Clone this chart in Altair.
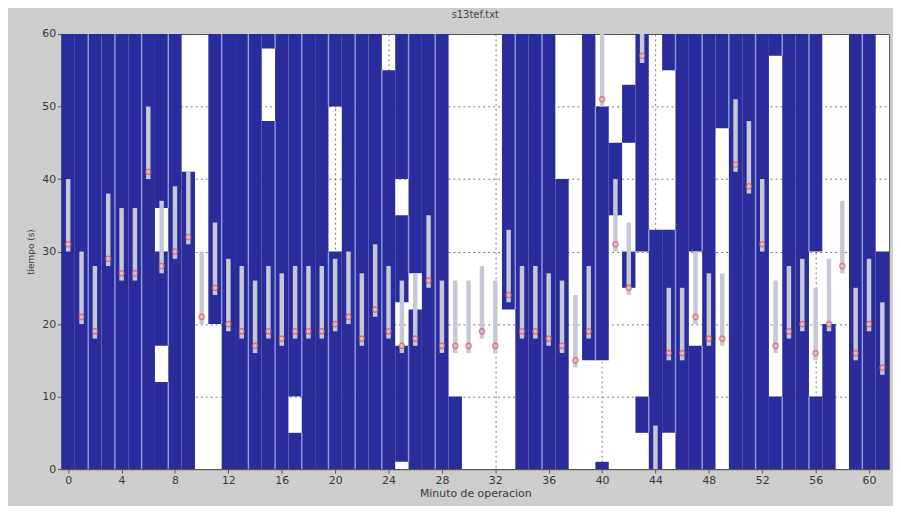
import altair as alt
import pandas as pd

# ---- data ----
# blue (occupied) segments: minute, lower, upper (s)
seg_minute = [0, 1, 2, 3, 4, 5, 6, 7, 7, 7, 8, 9, 11, 12, 13, 14, 15, 15, 16, 17, 17,
              18, 19, 20, 20, 21, 22, 23, 24, 25, 25, 25, 26, 26, 27, 28, 29, 33, 34,
              35, 36, 37, 39, 40, 40, 41, 42, 42, 43, 43, 44, 45, 45, 46, 47, 47, 48,
              49, 50, 51, 52, 53, 53, 54, 55, 56, 56, 57, 59, 60, 61]
seg_lo = [0, 0, 0, 0, 0, 0, 0, 0, 17, 36, 0, 0, 20, 0, 0, 0, 0, 58, 0, 0, 10,
          0, 0, 0, 50, 0, 0, 0, 0, 1, 23, 40, 0, 27, 0, 0, 0, 22, 0,
          0, 0, 0, 15, 0, 15, 35, 25, 45, 5, 30, 0, 5, 55, 0, 0, 30, 0,
          47, 0, 0, 0, 0, 57, 0, 0, 0, 30, 0, 0, 0, 0]
seg_hi = [60, 60, 60, 60, 60, 60, 60, 12, 30, 60, 60, 41, 60, 60, 60, 60, 48, 60, 60, 5, 60,
          60, 60, 30, 60, 60, 60, 60, 55, 17, 35, 60, 22, 60, 60, 60, 10, 60, 60,
          60, 60, 40, 60, 1, 50, 45, 30, 53, 10, 60, 33, 33, 60, 60, 17, 60, 60,
          60, 60, 60, 60, 10, 60, 60, 60, 10, 60, 20, 60, 60, 30]

# grey range bars and red markers per minute
minutes = list(range(62))
range_lo = [30, 20, 18, 28, 26, 26, 40, 27, 29, 31, 20, 24, 19, 18, 16, 18, 17, 18, 18, 18,
            19, 20, 17, 21, 18, 16, 17, 25, 16, 16, 16, 18, 16, 23, 18, 18, 17, 16, 14, 18,
            50, 30, 24, 56, 0, 15, 15, 20, 17, 17, 41, 38, 30, 16, 18, 19, 15, 19, 27, 15,
            19, 13]
range_hi = [40, 30, 28, 38, 36, 36, 50, 37, 39, 41, 30, 34, 29, 28, 26, 28, 27, 28, 28, 28,
            29, 30, 27, 31, 28, 26, 27, 35, 26, 26, 26, 28, 26, 33, 28, 28, 27, 26, 24, 28,
            60, 40, 34, 60, 6, 25, 25, 30, 27, 27, 51, 48, 40, 26, 28, 29, 25, 29, 37, 25,
            29, 23]
marker = [31, 21, 19, 29, 27, 27, 41, 28, 30, 32, 21, 25, 20, 19, 17, 19, 18, 19, 19, 19,
          20, 21, 18, 22, 19, 17, 18, 26, 17, 17, 17, 19, 17, 24, 19, 19, 18, 17, 15, 19,
          51, 31, 25, 57, None, 16, 16, 21, 18, 18, 42, 39, 31, 17, 19, 20, 16, 20, 28, 16,
          20, 14]

x_ticks = list(range(0, 61, 2))
y_ticks = list(range(0, 61, 5))

# ---- tables ----
segs = pd.DataFrame({"minute": seg_minute, "lo": seg_lo, "hi": seg_hi})
rng = pd.DataFrame({"minute": minutes, "lo": range_lo, "hi": range_hi, "mark": marker})

# light separator lines between column pairs where both neighbours are blue
sep_rows = []
for k in range(0, 60, 2):
    a = segs[segs.minute == k + 1]
    b = segs[segs.minute == k + 2]
    for _, ra in a.iterrows():
        for _, rb in b.iterrows():
            lo = max(ra.lo, rb.lo)
            hi = min(ra.hi, rb.hi)
            if hi > lo:
                sep_rows.append({"minute": k + 1, "lo": lo, "hi": hi})
seps = pd.DataFrame(sep_rows)

xscale = alt.Scale(domain=[-0.5, 61.5], nice=False, zero=False)
yscale = alt.Scale(domain=[0, 60], nice=False)

xaxis = alt.Axis(values=x_ticks, title="Minuto de operacion", grid=True,
                 labelFontSize=11, titleFontSize=11, titleFontWeight="normal",
                 labelColor="#3a3a3a", titleColor="#3a3a3a", titlePadding=2,
                 tickSize=4, labelPadding=2)
yaxis = alt.Axis(values=y_ticks, title="tiempo (s)", grid=True,
                 labelFontSize=11, titleFontSize=9, titleFontWeight="normal",
                 labelColor="#3a3a3a", titleColor="#3a3a3a", titlePadding=6,
                 tickSize=4, labelPadding=2)

blue = alt.Chart(segs).transform_calculate(
    x0="datum.minute - 0.5", x1="datum.minute + 0.5"
).mark_rect(color="#2a2c9c").encode(
    x=alt.X("x0:Q", scale=xscale, axis=xaxis),
    x2="x1:Q",
    y=alt.Y("lo:Q", scale=yscale, axis=yaxis),
    y2="hi:Q",
)

sep = alt.Chart(seps).transform_calculate(
    xb="datum.minute + 0.5"
).mark_rule(color="#8a9ee0", strokeWidth=1.4).encode(
    x=alt.X("xb:Q", scale=xscale),
    y=alt.Y("lo:Q", scale=yscale),
    y2="hi:Q",
)

bars = alt.Chart(rng).mark_rule(color="#c6c8d6", strokeWidth=4.5).encode(
    x=alt.X("minute:Q", scale=xscale),
    y=alt.Y("lo:Q", scale=yscale),
    y2="hi:Q",
)

pts = alt.Chart(rng).transform_filter("datum.mark != null").mark_point(
    shape="circle", filled=False, color="#e65050", size=28, strokeWidth=1.4
).encode(
    x=alt.X("minute:Q", scale=xscale),
    y=alt.Y("mark:Q", scale=yscale),
)

chart = alt.layer(blue, sep, bars, pts).properties(
    width=835, height=439,
    title=alt.Title("s13tef.txt", fontSize=10, fontWeight="normal", color="#444444", offset=8),
    autosize=alt.AutoSizeParams(type="none"),
    padding={"left": 54, "top": 24, "right": 4, "bottom": 35},
    background="#cdcdcd",
).configure_view(
    fill="white", stroke="#555555", strokeWidth=1
).configure_axis(
    gridColor="#444444", gridDash=[2, 3], gridOpacity=0.7, gridWidth=1,
    domainColor="#555555", tickColor="#555555", labelFont="DejaVu Sans", titleFont="DejaVu Sans"
).configure_title(font="DejaVu Sans")

chart.save("out.html", embed_options={"renderer": "svg", "actions": False})
